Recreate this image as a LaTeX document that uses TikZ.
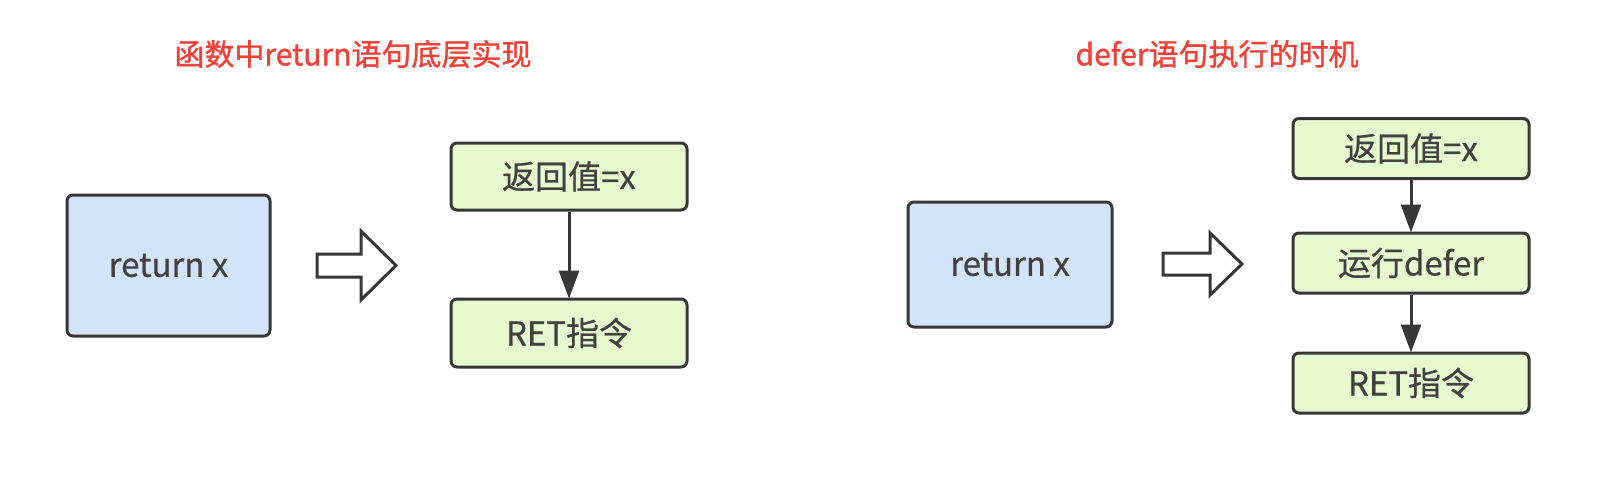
\documentclass[tikz,border=0pt]{standalone}
\usepackage{fontspec}
\setmainfont{Noto Sans CJK SC}
\newfontfamily\titlefont[FakeBold=1.2]{Noto Sans CJK SC}
\newfontfamily\boxfont[FakeBold=0.6]{Noto Sans CJK SC}
\usetikzlibrary{arrows.meta}
\definecolor{bluefill}{RGB}{210,227,250}
\definecolor{greenfill}{RGB}{231,250,207}
\definecolor{edge}{RGB}{55,55,55}
\definecolor{txt}{RGB}{65,65,65}
\definecolor{titlered}{RGB}{240,66,56}
\tikzset{
  box/.style={draw=edge, line width=3pt, rounded corners=6pt, inner sep=0pt, text=txt, font=\boxfont\fontsize{33}{33}\selectfont},
  bluebox/.style={box, fill=bluefill},
  greenbox/.style={box, fill=greenfill, minimum width=236pt},
  title/.style={text=titlered, font=\titlefont\fontsize{30}{30}\selectfont},
  flow/.style={draw=edge, line width=3pt, -{Triangle[width=20pt,length=28pt]}, shorten >=-1pt},
  hollow/.style={draw=edge, line width=3pt, fill=white, line join=miter}
}
\begin{document}
\begin{tikzpicture}[x=1pt,y=-1pt]
\useasboundingbox (0,0) rectangle (1602,490);
% titles
\node[title] (t1) at (353,54) {函数中return语句底层实现};
\node[title] (t2) at (1217,54) {defer语句执行的时机};
% left part
\node[bluebox, minimum width=203pt, minimum height=141pt] (b1) at (168.5,265.5) {return x};
\node[greenbox, minimum height=67pt] (l1) at (569,176.5) {返回值=x};
\node[greenbox, minimum height=68pt] (l2) at (569,333) {RET指令};
\draw[flow] (l1) -- (l2);
\draw[hollow] (317,254) -- (361,254) -- (361,231) -- (396,265.5) -- (361,300) -- (361,277) -- (317,277) -- cycle;
% right part
\node[bluebox, minimum width=204pt, minimum height=125pt] (b2) at (1010,264.5) {return x};
\node[greenbox, minimum height=60pt] (r1) at (1411,148.5) {返回值=x};
\node[greenbox, minimum height=60pt] (r2) at (1411,263) {运行defer};
\node[greenbox, minimum height=60pt] (r3) at (1411,383) {RET指令};
\draw[flow] (r1) -- (r2);
\draw[flow] (r2) -- (r3);
\draw[hollow] (1163,253) -- (1210,253) -- (1210,233) -- (1242,264) -- (1210,295) -- (1210,275) -- (1163,275) -- cycle;
\end{tikzpicture}
\end{document}
